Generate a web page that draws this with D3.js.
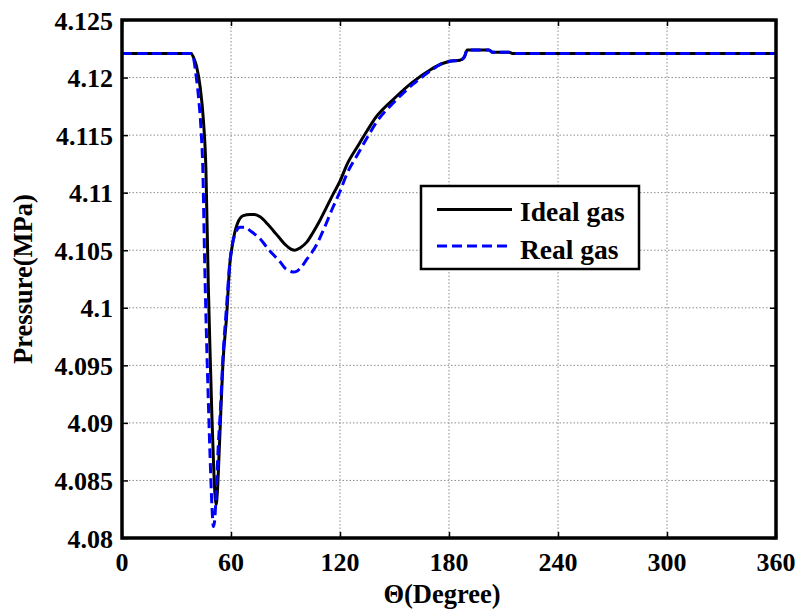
<!DOCTYPE html>
<html>
<head>
<meta charset="utf-8">
<script src="https://cdn.jsdelivr.net/npm/d3@7/dist/d3.min.js"></script>
<style>
  html, body { margin: 0; padding: 0; background: #fff; }
  svg { display: block; }
</style>
</head>
<body>
<svg id="chart" width="799" height="612"></svg>
<script>
// ---- data ----
const xTicks = [0, 60, 120, 180, 240, 300, 360];
const yTicks = [4.08, 4.085, 4.09, 4.095, 4.1, 4.105, 4.11, 4.115, 4.12, 4.125];
const yTickLabels = ["4.08", "4.085", "4.09", "4.095", "4.1", "4.105", "4.11", "4.115", "4.12", "4.125"];
const seriesNames = ["Ideal gas", "Real gas"];

const idealTheta = [0, 38, 39.5, 41, 43, 44.8, 46.2, 47.5, 48.5, 49.5, 50.5, 51.3, 51.8, 52.5, 53.5, 54.3, 55.5, 57.6, 59.4, 60.5, 62, 63.5, 66.8, 70.5, 73, 76, 80, 83.3, 86.5, 89.8, 93, 95.2, 98, 101.7, 105, 109, 112.5, 116.3, 120, 123.7, 130, 135, 140, 150, 160, 170, 176, 180, 186, 188.5, 190, 202, 204, 213, 215, 360];
const idealP = [4.1221, 4.1221, 4.1217, 4.1210, 4.1192, 4.1163, 4.1120, 4.1020, 4.0960, 4.0905, 4.0860, 4.0835, 4.0829, 4.0840, 4.0875, 4.0906, 4.0950, 4.0993, 4.1039, 4.1052, 4.1065, 4.1073, 4.1080, 4.1081, 4.1081, 4.1079, 4.1073, 4.1067, 4.1061, 4.1055, 4.1051, 4.1050, 4.1052, 4.1057, 4.1065, 4.1076, 4.1087, 4.1099, 4.1110, 4.1124, 4.1141, 4.1154, 4.1166, 4.1182, 4.1196, 4.1207, 4.1212, 4.1214, 4.1215, 4.1218, 4.1224, 4.1224, 4.1222, 4.1222, 4.1221, 4.1221];

const realTheta = [0, 38, 39.5, 40.5, 42, 43.5, 44.5, 45.5, 46.5, 47.5, 48.5, 49.5, 50.3, 51, 52, 53, 54.3, 55.5, 57.5, 59.4, 60.5, 62, 65, 68, 70.5, 73, 76, 80, 84, 87, 90, 92.5, 94.3, 96.5, 99, 101.7, 104.5, 107.2, 111, 116.3, 120, 123.7, 130, 135, 140, 150, 160, 170, 176, 180, 186, 188.5, 190, 202, 204, 213, 215, 360];
const realP = [4.1221, 4.1221, 4.1216, 4.1205, 4.1185, 4.1155, 4.1120, 4.1040, 4.0975, 4.0920, 4.0870, 4.0828, 4.0810, 4.0815, 4.0845, 4.0880, 4.0915, 4.0955, 4.1000, 4.1040, 4.1053, 4.1063, 4.1070, 4.1070, 4.1067, 4.1064, 4.1060, 4.1052, 4.1045, 4.1040, 4.1034, 4.1032, 4.1031, 4.1032, 4.1036, 4.1042, 4.1048, 4.1055, 4.1068, 4.1088, 4.1101, 4.1116, 4.1134, 4.1148, 4.1161, 4.1179, 4.1194, 4.1206, 4.1212, 4.1214, 4.1215, 4.1218, 4.1224, 4.1224, 4.1222, 4.1222, 4.1221, 4.1221];

// ---- layout ----
const FONT = "'Liberation Serif', Tinos, 'Times New Roman', Times, 'DejaVu Serif', serif";
const L = 122, R = 776, T = 20, B = 538;
const svg = d3.select("#chart");
const x = d3.scaleLinear().domain([0, 360]).range([L, R]);
const y = d3.scaleLinear().domain([4.08, 4.125]).range([B, T]);

// grid
const grid = svg.append("g");
grid.selectAll("line.gx").data(xTicks.slice(1, -1)).join("line")
  .attr("x1", d => x(d)).attr("x2", d => x(d)).attr("y1", T).attr("y2", B)
  .attr("stroke", "#8c8c8c").attr("stroke-width", 1).attr("stroke-dasharray", "1.5,2");
grid.selectAll("line.gy").data(yTicks.slice(1, -1)).join("line")
  .attr("y1", d => y(d)).attr("y2", d => y(d)).attr("x1", L).attr("x2", R)
  .attr("stroke", "#8c8c8c").attr("stroke-width", 1).attr("stroke-dasharray", "1.5,2");

// lines
const line = d3.line().x(d => x(d[0])).y(d => y(d[1])).curve(d3.curveMonotoneX);
const idealData = idealTheta.map((t, i) => [t, idealP[i]]);
const realData = realTheta.map((t, i) => [t, realP[i]]);
svg.append("path").datum(idealData).attr("d", line)
  .attr("fill", "none").attr("stroke", "#000").attr("stroke-width", 3);
svg.append("path").datum(realData).attr("d", line)
  .attr("fill", "none").attr("stroke", "#0000ff").attr("stroke-width", 3)
  .attr("stroke-dasharray", "10,5");

// axes with inward ticks
const tl = 6;
const axB = d3.axisBottom(x).tickValues(xTicks).tickSize(-tl).tickFormat("");
const axT = d3.axisTop(x).tickValues(xTicks).tickSize(-tl).tickFormat("");
const axLft = d3.axisLeft(y).tickValues(yTicks).tickSize(-tl).tickFormat("");
const axRt = d3.axisRight(y).tickValues(yTicks).tickSize(-tl).tickFormat("");
[[axB, `translate(0,${B})`], [axT, `translate(0,${T})`], [axLft, `translate(${L},0)`], [axRt, `translate(${R},0)`]]
  .forEach(([a, tr]) => {
    const g = svg.append("g").attr("transform", tr).call(a);
    g.select(".domain").remove();
    g.selectAll(".tick line").attr("stroke", "#000").attr("stroke-width", 1.5);
  });

// box
svg.append("rect").attr("x", L).attr("y", T).attr("width", R - L).attr("height", B - T)
  .attr("fill", "none").attr("stroke", "#000").attr("stroke-width", 3.5);

const txt = sel => sel.attr("font-family", FONT).attr("font-weight", "bold").attr("fill", "#000");

// tick labels
svg.append("g").selectAll("text").data(xTicks).join("text")
  .attr("x", d => x(d)).attr("y", 571).attr("text-anchor", "middle")
  .attr("font-size", 26).call(txt).text(d => d);
svg.append("g").selectAll("text").data(yTicks).join("text")
  .attr("x", 113).attr("y", d => y(d) + 9.5).attr("text-anchor", "end")
  .attr("font-size", 26).call(txt).text((d, i) => yTickLabels[i]);

// axis titles
svg.append("text").attr("x", 442).attr("y", 603).attr("text-anchor", "middle")
  .attr("font-size", 26.5).call(txt).text("\u0398(Degree)");
svg.append("text").attr("transform", `translate(32,${(T + B) / 2}) rotate(-90)`)
  .attr("text-anchor", "middle").attr("font-size", 26.5).call(txt).text("Pressure(MPa)");

// legend
const lg = svg.append("g");
lg.append("rect").attr("x", 421).attr("y", 186).attr("width", 218).attr("height", 83)
  .attr("fill", "#fff").attr("stroke", "#000").attr("stroke-width", 2.5);
const legendRows = [
  { name: seriesNames[0], color: "#000", dash: null, ly: 209.5, ty: 221 },
  { name: seriesNames[1], color: "#0000ff", dash: "10,5", ly: 246, ty: 259 }
];
legendRows.forEach(r => {
  lg.append("line").attr("x1", 437).attr("x2", 512).attr("y1", r.ly).attr("y2", r.ly)
    .attr("stroke", r.color).attr("stroke-width", 3).attr("stroke-dasharray", r.dash);
  lg.append("text").attr("x", 520).attr("y", r.ty).attr("font-size", 27.5).call(txt).text(r.name);
});
</script>
</body>
</html>
